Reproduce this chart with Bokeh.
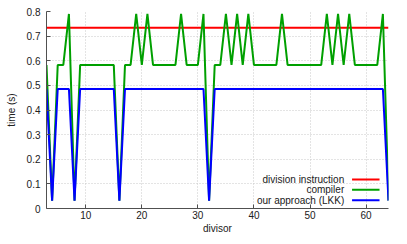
from bokeh.plotting import figure
from bokeh.models import Range1d, FixedTicker, Label
from bokeh.embed import file_html
from bokeh.resources import INLINE

# ---- data ----
divisor = list(range(3, 65))
division_instruction = [0.734] * len(divisor)
slow = {7, 19, 21, 27, 31, 35, 37, 39, 45, 53, 55, 57, 63}
pow2 = {4, 8, 16, 32, 64}
compiler = []
our_approach = []
for d in divisor:
    if d in pow2:
        compiler.append(0.032)
        our_approach.append(0.032)
    elif d in slow:
        compiler.append(0.79)
        our_approach.append(0.485)
    else:
        compiler.append(0.583)
        our_approach.append(0.485)

x_ticks = [10, 20, 30, 40, 50, 60]
y_ticks = [0, 0.1, 0.2, 0.3, 0.4, 0.5, 0.6, 0.7, 0.8]
y_tick_labels = ["0", "0.1", "0.2", "0.3", "0.4", "0.5", "0.6", "0.7", "0.8"]
series_names = ["division instruction", "compiler", "our approach (LKK)"]
series_colors = ["#ff0000", "#00a000", "#0000ff"]

FONT = "Liberation Sans"

p = figure(width=391, height=236, output_backend="svg", toolbar_location=None,
           x_range=Range1d(3, 64), y_range=Range1d(0, 0.8),
           min_border_left=46, min_border_right=3, min_border_top=11, min_border_bottom=10)
p.outline_line_color = None
p.background_fill_color = "white"

for ax in (p.xaxis[0], p.yaxis[0]):
    ax.axis_line_color = "#505050"
    ax.axis_line_width = 1
    ax.major_tick_line_color = "#505050"
    ax.major_tick_in = 4
    ax.major_tick_out = 0
    ax.minor_tick_line_color = None
    ax.major_label_text_font = FONT
    ax.major_label_text_font_size = "10px"
    ax.major_label_text_color = "#202020"
    ax.axis_label_text_font = FONT
    ax.axis_label_text_font_size = "10px"
    ax.axis_label_text_font_style = "normal"
    ax.axis_label_text_color = "#202020"

p.xaxis.ticker = FixedTicker(ticks=x_ticks)
p.yaxis.ticker = FixedTicker(ticks=y_ticks)
p.yaxis.major_label_overrides = {t: l for t, l in zip(y_ticks, y_tick_labels)}
p.xaxis.axis_label = "divisor"
p.yaxis.axis_label = "time (s)"
p.xaxis.major_label_standoff = 2
p.xaxis.axis_label_standoff = 1
p.yaxis.major_label_standoff = 6
p.yaxis.axis_label_standoff = 7

p.xgrid.grid_line_color = "#c8c8c8"
p.ygrid.grid_line_color = "#c8c8c8"
p.xgrid.grid_line_dash = "1 2"
p.ygrid.grid_line_dash = "1 2"

series = [division_instruction, compiler, our_approach]
for vals, c in zip(series, series_colors):
    p.line(divisor, vals, line_color=c, line_width=2)

# gnuplot-style legend: label right-aligned, sample line to its right
leg_text_x = 56.1
leg_line_x0, leg_line_x1 = 57.5, 62.4
leg_rows = [0.118, 0.076, 0.033]
for name, c, yy in zip(series_names, series_colors, leg_rows):
    p.add_layout(Label(x=leg_text_x, y=yy, text=name, text_align="right",
                       text_baseline="middle", text_font=FONT,
                       text_font_size="10px", text_color="#202020"))
    p.line([leg_line_x0, leg_line_x1], [yy, yy], line_color=c, line_width=2)

open("out.html", "w").write(file_html(p, INLINE))
